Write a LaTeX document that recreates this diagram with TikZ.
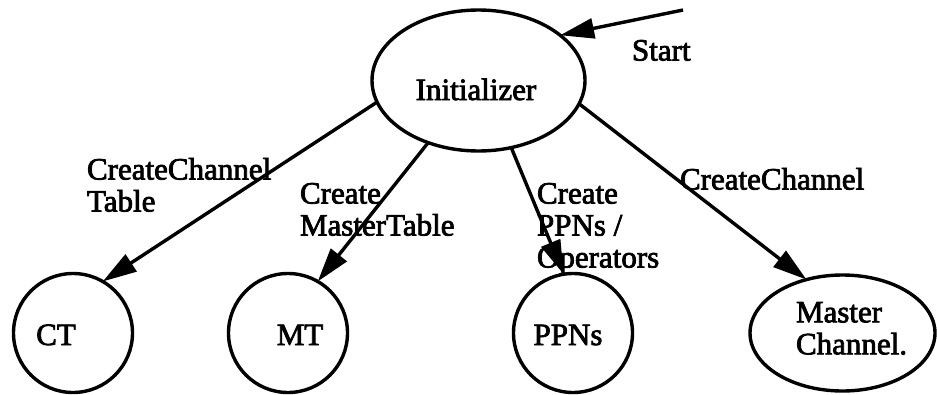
\documentclass[tikz,border=0pt]{standalone}
\usepackage{fontspec}
\setmainfont[FakeBold=2.5]{Liberation Serif}
\usetikzlibrary{shapes.geometric,arrows.meta}
\begin{document}
\begin{tikzpicture}[x=1pt,y=-1pt,
  every node/.style={inner sep=0pt,outer sep=0pt},
  ringnode/.style={draw,circle,line width=3.4pt,minimum size=119pt},
  ovalnode/.style={draw,ellipse,line width=3.4pt},
  lbl/.style={font=\fontsize{31}{32}\selectfont,align=left},
  conn/.style={line width=3.4pt,-{Triangle[length=34pt,width=20pt]}}]
\path[use as bounding box] (0,0) rectangle (937,394);

% states
\node[ovalnode,minimum width=213pt,minimum height=141pt] (init) at (478.5,80.5) {};
\node[ringnode] (ct)  at (73,333)  {};
\node[ringnode] (mt)  at (288,333) {};
\node[ringnode] (ppn) at (573,333) {};
\node[ovalnode,minimum width=185pt,minimum height=116pt] (mc) at (842.5,333) {};

% state names
\node[lbl,anchor=base] (tinit) at (476,100) {Initializer};
\node[lbl,anchor=base] (tct)   at (56,345)  {CT};
\node[lbl,anchor=base] (tmt)   at (300,345) {MT};
\node[lbl,anchor=base] (tppn)  at (568,345) {PPNs};
\node[lbl,anchor=north west] (tmc) at (796,302) {\fontsize{31}{34}\selectfont Master\\Channel.};

% transition labels
\node[lbl,anchor=north west] (lct)  at (87,158)  {CreateChannel\\Table};
\node[lbl,anchor=north west] (lmt)  at (300,183) {Create\\MasterTable};
\node[lbl,anchor=north west] (lppn) at (537,183) {Create\\PPNs /\\Operators};
\node[lbl,anchor=north west] (lmc)  at (680,168) {CreateChannel};
\node[lbl,anchor=north west] (lst)  at (632,40)  {Start};

% transitions
\coordinate (entry) at (683,10);
\draw[conn] (entry) -- (init.29.5);
\draw[conn] (init.192.8) -- (ct.60);
\draw[conn] (init.231) -- (mt.60);
\draw[conn] (init.296) -- (ppn.99);
\draw[conn] (init.347) -- (mc.124.6);
\end{tikzpicture}
\end{document}
